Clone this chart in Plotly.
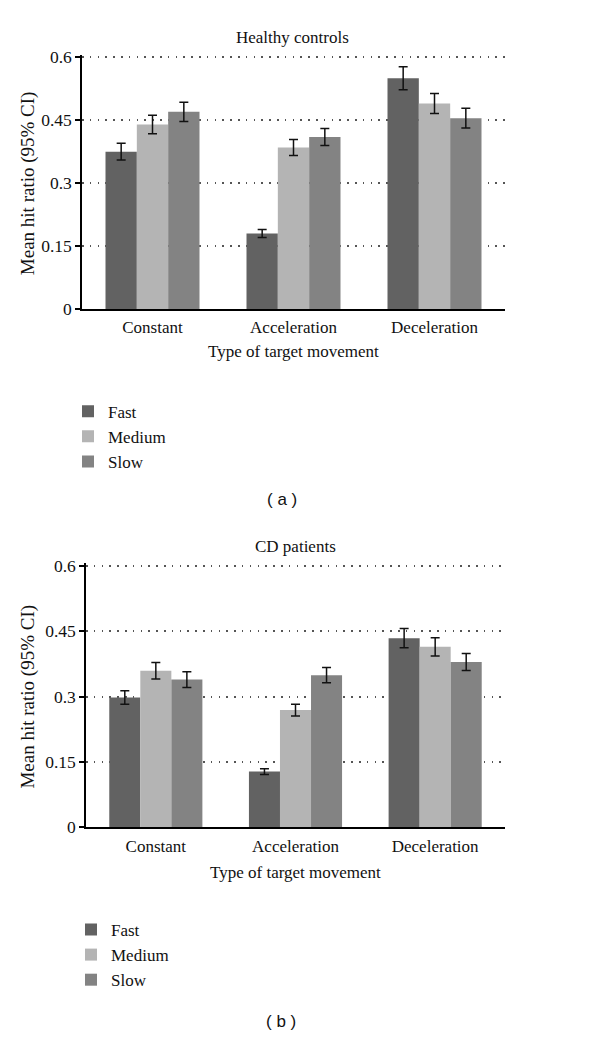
import plotly.graph_objects as go

categories = ["Constant", "Acceleration", "Deceleration"]
series = ["Fast", "Medium", "Slow"]
colors = {"Fast": "#626262", "Medium": "#b4b4b4", "Slow": "#838383"}

# Healthy controls
hc_values = {
    "Fast": [0.375, 0.18, 0.55],
    "Medium": [0.44, 0.385, 0.49],
    "Slow": [0.47, 0.41, 0.455],
}
hc_err = {
    "Fast": [0.02, 0.0095, 0.0275],
    "Medium": [0.022, 0.019, 0.024],
    "Slow": [0.023, 0.0205, 0.0235],
}
# CD patients
cd_values = {
    "Fast": [0.298, 0.128, 0.434],
    "Medium": [0.359, 0.269, 0.414],
    "Slow": [0.339, 0.349, 0.379],
}
cd_err = {
    "Fast": [0.0155, 0.0065, 0.022],
    "Medium": [0.019, 0.0135, 0.021],
    "Slow": [0.018, 0.0175, 0.0195],
}
y_ticks = [0, 0.15, 0.3, 0.45, 0.6]
y_ticktext = ["0", "0.15", "0.3", "0.45", "0.6"]

# page body has an 8px margin; figure sized so the page is exactly 600x1046
OFF = 8
W, H = 600 - 2 * OFF, 1046 - 2 * OFF
SERIF = "Liberation Serif"
YMAX_TICK = 0.6
YMAX = 0.606  # a little headroom so the 0.6 gridline is drawn

def px_x(p):
    return (p - OFF) / W

def px_y(p):
    return 1 - (p - OFF) / H

def y_domain(zero_px, top_tick_px):
    top_px = zero_px - (zero_px - top_tick_px) * YMAX / YMAX_TICK
    return [px_y(zero_px), px_y(top_px)]

fig = go.Figure()

for vals, errs, xa, ya, leg in [
    (hc_values, hc_err, "x", "y", "legend"),
    (cd_values, cd_err, "x2", "y2", "legend2"),
]:
    for s in series:
        fig.add_trace(go.Bar(
            x=categories, y=vals[s], name=s,
            marker=dict(color=colors[s], line=dict(width=0)),
            error_y=dict(type="data", array=errs[s], color="#111111",
                         thickness=1.5, width=4.5),
            xaxis=xa, yaxis=ya, legend=leg,
        ))

axis_common_y = dict(
    range=[0, YMAX], tickvals=y_ticks, ticktext=y_ticktext,
    showline=True, linecolor="black", linewidth=1.5,
    ticks="outside", ticklen=5, tickwidth=1.5, tickcolor="black",
    showgrid=True, gridcolor="#555555", gridwidth=1.5, griddash="1.5px,6.3px",
    zeroline=False, tickfont=dict(family=SERIF, size=17.5, color="#111111"),
)
axis_common_x = dict(
    range=[-0.5, 2.5], showline=True, linecolor="black", linewidth=1.5,
    ticks="", showgrid=False, zeroline=False, ticklabelstandoff=2,
    tickfont=dict(family=SERIF, size=17, color="#111111"),
)

legend_font = dict(family=SERIF, size=17, color="#111111")

fig.update_layout(
    width=W, height=H, margin=dict(l=0, r=0, t=0, b=0),
    paper_bgcolor="white", plot_bgcolor="white",
    barmode="group", bargap=1/3, bargroupgap=0,
    xaxis=dict(domain=[px_x(82), px_x(505)], anchor="y", **axis_common_x),
    yaxis=dict(domain=y_domain(307, 51), anchor="x", **axis_common_y),
    xaxis2=dict(domain=[px_x(86), px_x(505)], anchor="y2", **axis_common_x),
    yaxis2=dict(domain=y_domain(834, 568), anchor="x2", **axis_common_y),
    legend=dict(x=px_x(68), y=px_y(393), xanchor="left", yanchor="top",
                font=legend_font, bgcolor="rgba(0,0,0,0)",
                tracegroupgap=0, itemclick=False),
    legend2=dict(x=px_x(71), y=px_y(920), xanchor="left", yanchor="top",
                 font=legend_font, bgcolor="rgba(0,0,0,0)",
                 tracegroupgap=0, itemclick=False),
    showlegend=True,
)

annots = [
    dict(text="Healthy controls", x=292, y=31, size=17, family=SERIF, angle=0),
    dict(text="Type of target movement", x=293, y=350, size=17, family=SERIF, angle=0),
    dict(text="Mean hit ratio (95% CI)", x=28, y=179, size=19, family=SERIF, angle=-90),
    dict(text="( a )", x=282, y=501, size=17, family="Liberation Sans", angle=0),
    dict(text="CD patients", x=295, y=548, size=17, family=SERIF, angle=0),
    dict(text="Type of target movement", x=295, y=880, size=17, family=SERIF, angle=0),
    dict(text="Mean hit ratio (95% CI)", x=28, y=701, size=19, family=SERIF, angle=-90),
    dict(text="( b )", x=281, y=1031, size=17, family="Liberation Sans", angle=0),
]
for a in annots:
    fig.add_annotation(text=a["text"], x=px_x(a["x"]), y=px_y(a["y"]),
                       xref="paper", yref="paper",
                       xanchor="center", yanchor="middle", showarrow=False,
                       textangle=a["angle"],
                       font=dict(family=a["family"], size=a["size"], color="#111111"))

fig.write_html("out.html")
